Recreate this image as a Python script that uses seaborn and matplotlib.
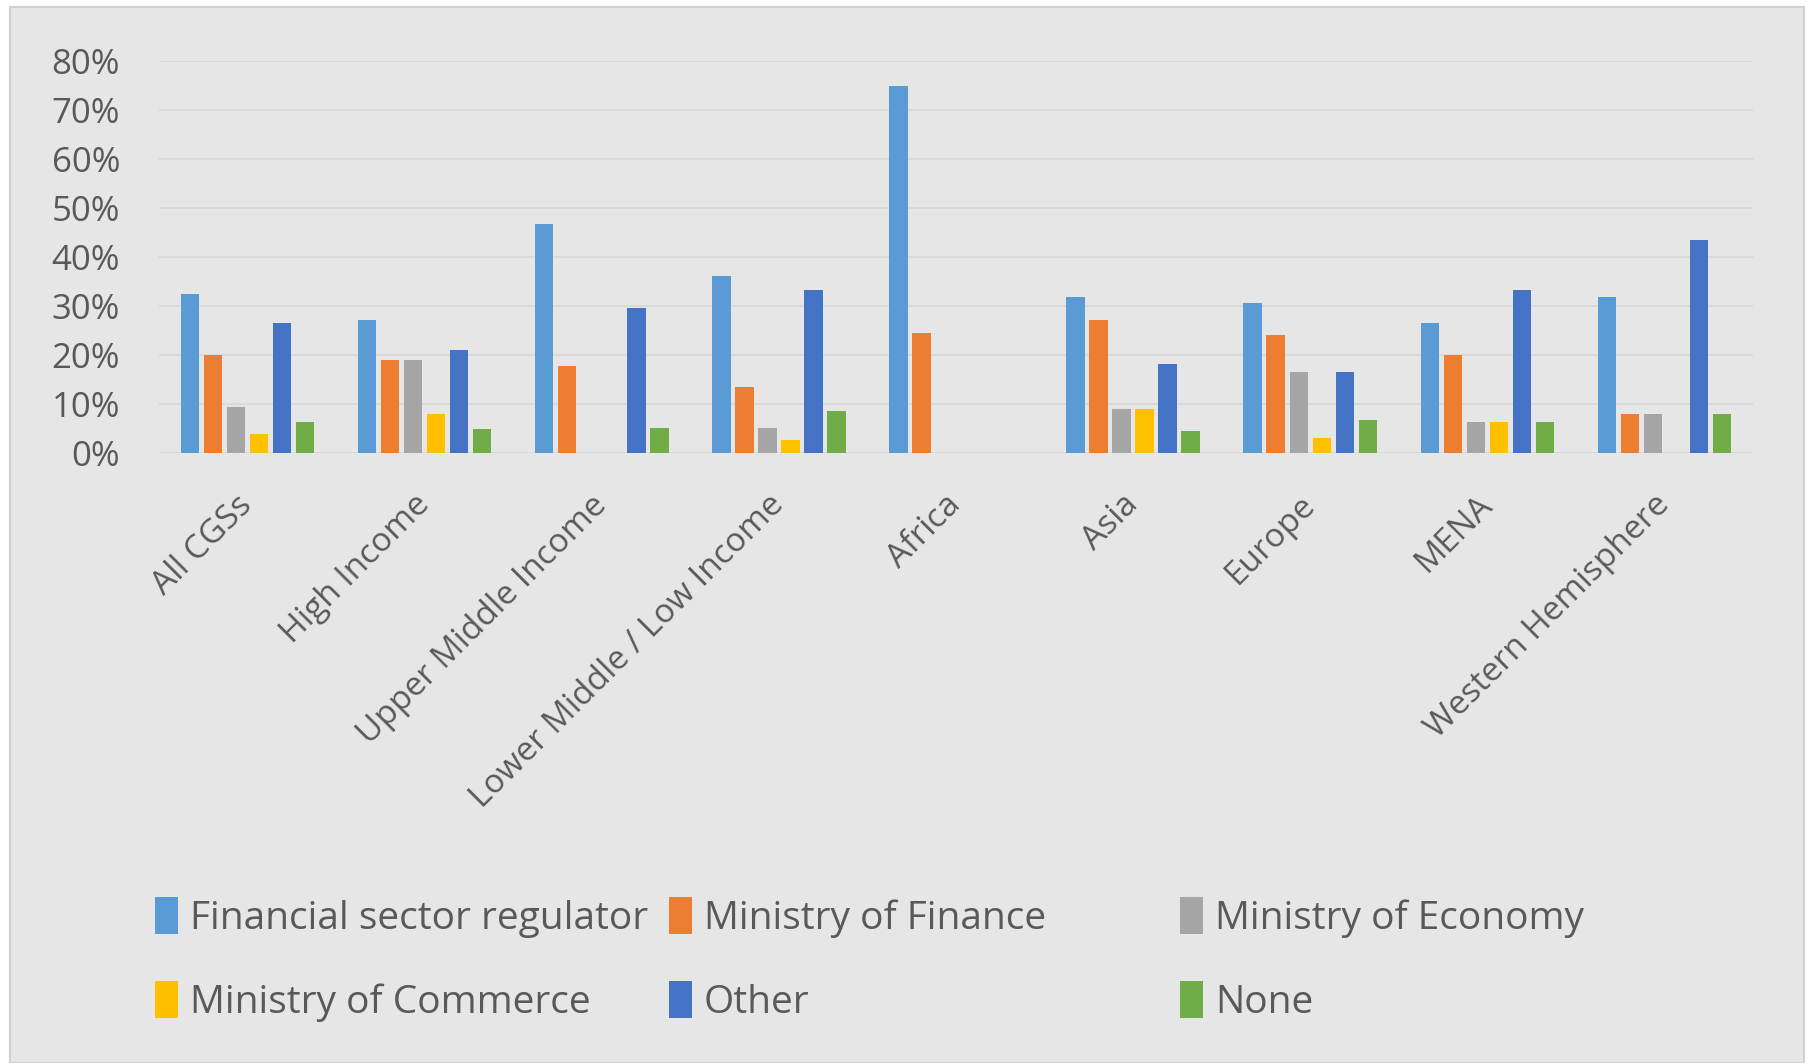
import matplotlib
matplotlib.use("Agg")
import matplotlib.pyplot as plt
from matplotlib.patches import Rectangle
from matplotlib.ticker import PercentFormatter, MultipleLocator
import seaborn as sns
import pandas as pd

categories = ["All CGSs", "High Income", "Upper Middle Income", "Lower Middle / Low Income",
              "Africa", "Asia", "Europe", "MENA", "Western Hemisphere"]
series_names = ["Financial sector regulator", "Ministry of Finance", "Ministry of Economy",
                "Ministry of Commerce", "Other", "None"]
financial_regulator = [0.325, 0.272, 0.468, 0.362, 0.750, 0.318, 0.307, 0.266, 0.318]
ministry_finance    = [0.199, 0.189, 0.177, 0.134, 0.244, 0.272, 0.240, 0.199, 0.079]
ministry_economy    = [0.093, 0.189, 0.000, 0.052, 0.000, 0.089, 0.166, 0.063, 0.079]
ministry_commerce   = [0.038, 0.079, 0.000, 0.026, 0.000, 0.089, 0.030, 0.063, 0.000]
other               = [0.266, 0.211, 0.295, 0.332, 0.000, 0.181, 0.166, 0.332, 0.435]
none_               = [0.063, 0.048, 0.052, 0.085, 0.000, 0.044, 0.067, 0.063, 0.079]
colors = ["#5B9BD5", "#ED7D31", "#A5A5A5", "#FFC000", "#4472C4", "#70AD47"]

all_series = [financial_regulator, ministry_finance, ministry_economy,
              ministry_commerce, other, none_]
rows = []
for name, vals in zip(series_names, all_series):
    for cat, v in zip(categories, vals):
        rows.append({"category": cat, "series": name, "value": v})
df = pd.DataFrame(rows)

TEXT = "#595959"
BG = "#E6E6E6"
GRID = "#D9D9D9"
plt.rcParams['font.family'] = ['Open Sans', 'DejaVu Sans']

fig = plt.figure(figsize=(18.15, 10.63), dpi=100, facecolor="white")
fig.patches.append(Rectangle((10 / 1815, 0), (1804 - 10) / 1815, 1 - 7 / 1063,
                             transform=fig.transFigure, facecolor=BG,
                             edgecolor="#D0D0D0", linewidth=1.5, zorder=-5))
ax = fig.add_axes([159 / 1815, 1 - 453 / 1063, (1753 - 159) / 1815, (453 - 61) / 1063])
ax.set_facecolor("none")
ax.set_zorder(2)

sns.barplot(data=df, x="category", y="value", hue="series", order=categories,
            hue_order=series_names, palette=colors, width=0.78, gap=0.2,
            errorbar=None, saturation=1, ax=ax)
ax.get_legend().remove()

ax.set_ylim(0, 0.8)
ax.set_xlim(-0.5, len(categories) - 0.5)
ax.yaxis.set_major_locator(MultipleLocator(0.1))
ax.yaxis.set_major_formatter(PercentFormatter(1.0, decimals=0))
ax.grid(axis="y", color=GRID, linewidth=1.5, zorder=0)
ax.set_axisbelow(True)
for s in ax.spines.values():
    s.set_visible(False)
ax.set_xlabel("")
ax.set_ylabel("")
ax.tick_params(axis="both", length=0, colors=TEXT)
ax.tick_params(axis="y", labelsize=25, pad=28)
ax.tick_params(axis="x", labelsize=24, pad=34)
for lbl in ax.get_xticklabels():
    lbl.set_rotation(45)
    lbl.set_ha("right")
    lbl.set_va("center")
    lbl.set_rotation_mode("anchor")

handles, labels = ax.get_legend_handles_labels()
col_x = [155 / 1815, 669 / 1815, 1180 / 1815]
for c in range(3):
    hs = [handles[c], handles[c + 3]]
    ls = [labels[c], labels[c + 3]]
    leg = fig.legend(hs, ls, loc="upper left", bbox_to_anchor=(col_x[c], 1 - 897 / 1063),
                     frameon=False, fontsize=28, handlelength=0.6, handleheight=1.1,
                     handletextpad=0.3, labelspacing=1.1, borderaxespad=0,
                     borderpad=0, labelcolor=TEXT)
    leg.set_zorder(3)

fig.savefig("out.png", dpi=100, facecolor="white")
